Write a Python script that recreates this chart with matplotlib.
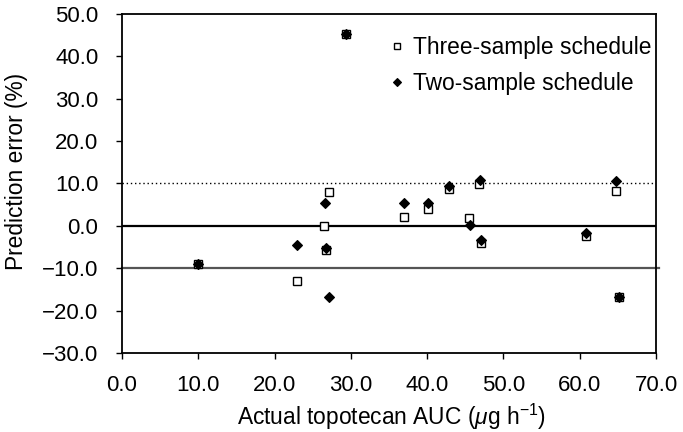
import matplotlib
matplotlib.use("Agg")
import matplotlib.pyplot as plt
from matplotlib.ticker import FuncFormatter, MultipleLocator

plt.rcParams['font.family'] = ['Liberation Sans', 'DejaVu Sans']
plt.rcParams['mathtext.fontset'] = 'custom'
plt.rcParams['mathtext.rm'] = 'Liberation Sans'
plt.rcParams['mathtext.it'] = 'Liberation Sans:italic'

# actual AUC (x) for each series
auc_three = [10.0, 22.9, 26.5, 26.7, 27.1, 29.3, 37.0, 40.1, 42.9, 45.5, 46.8, 47.1, 60.8, 64.7, 65.1]
err_three = [-9.0, -13.0, -0.1, -5.8, 8.0, 45.3, 2.2, 3.9, 8.8, 1.8, 9.8, -4.0, -2.5, 8.2, -16.8]

auc_two = [10.0, 22.9, 26.6, 26.7, 27.2, 29.3, 37.0, 40.1, 42.9, 45.6, 46.9, 47.1, 60.8, 64.7, 65.1]
err_two = [-9.0, -4.6, 5.4, -5.3, -16.8, 45.3, 5.4, 5.4, 9.3, 0.2, 10.9, -3.4, -1.8, 10.6, -16.8]

fig = plt.figure(figsize=(6.83, 4.32), dpi=100)
ax = fig.add_axes([0.1786, 0.1829, 0.7819, 0.7847])

# reference lines
ax.axhline(0, color='black', lw=1.6, zorder=1)
ax.axhline(10, color='black', lw=1.0, ls=(0, (1, 2)), zorder=1)
ax.axhline(-10, color='#555555', lw=1.6, xmax=1.006, clip_on=False, zorder=1)

ax.plot(auc_three, err_three, ls='none', marker='s', ms=5.8, mfc='white',
        mec='black', mew=1.0, label='Three-sample schedule', zorder=3)
ax.plot(auc_two, err_two, ls='none', marker='D', ms=4.8, mfc='black',
        mec='black', mew=0.8, label='Two-sample schedule', zorder=4)

ax.set_xlim(0, 70)
ax.set_ylim(-30, 50)
ax.xaxis.set_major_locator(MultipleLocator(10))
ax.yaxis.set_major_locator(MultipleLocator(10))
fmt = FuncFormatter(lambda v, p: f"{v:.1f}".replace('-', '\u2212'))
ax.xaxis.set_major_formatter(fmt)
ax.yaxis.set_major_formatter(fmt)
ax.tick_params(direction='out', length=4, width=1.0, labelsize=16)
ax.tick_params(axis='y', pad=13)
ax.tick_params(axis='x', pad=12)

for s in ax.spines.values():
    s.set_linewidth(1.3)

ax.set_xlabel(r'Actual topotecan AUC ($\mu$g h$^{-1}$)', fontsize=16.4)
ax.set_ylabel('Prediction error (%)', fontsize=16.4)
ax.yaxis.set_label_coords(-0.176, 0.537)
ax.xaxis.set_label_coords(0.505, -0.145)

ax.legend(loc='upper left', bbox_to_anchor=(0.483, 0.962), frameon=False,
          fontsize=16.4, handlelength=0.7, handletextpad=0.35,
          labelspacing=0.55, borderaxespad=0, markerscale=0.85)

fig.savefig('out.png', dpi=100)
